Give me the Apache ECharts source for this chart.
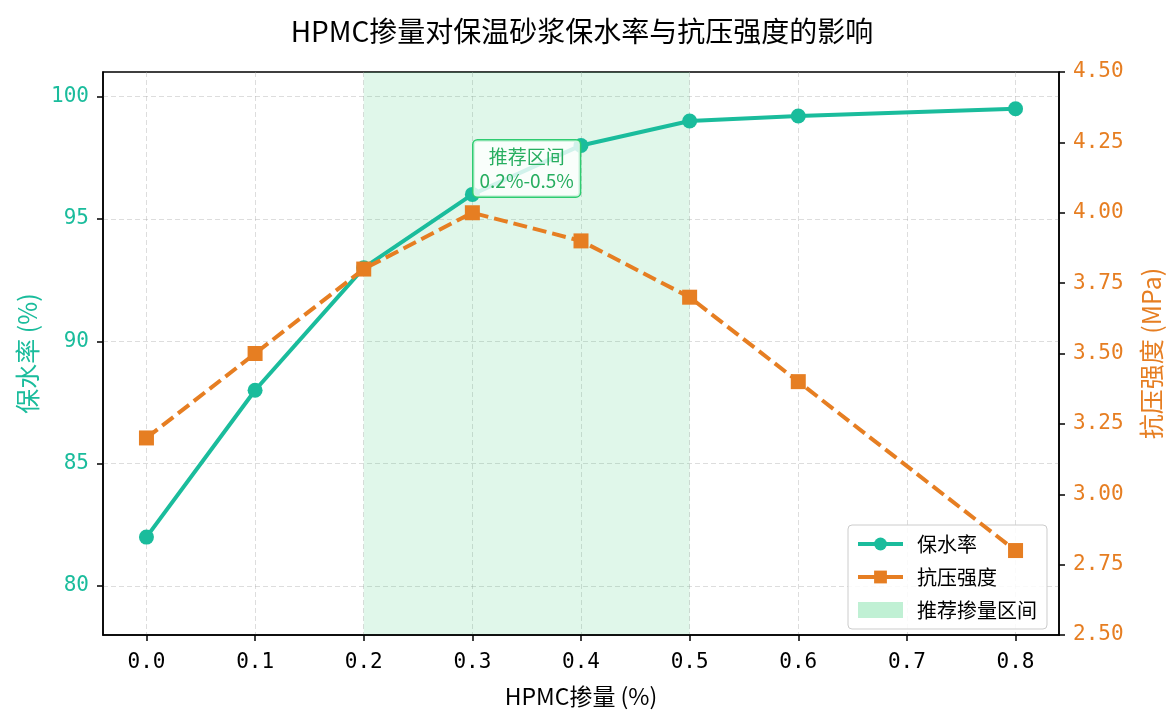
<!DOCTYPE html>
<html><head><meta charset="utf-8">
<script src="https://cdn.jsdelivr.net/npm/echarts@6/dist/echarts.min.js"></script>
<style>html,body{margin:0;padding:0;background:#fff}#c{width:1176px;height:726px}</style>
</head><body><div id="c"></div>
<script>
// ---- data ----
const dosage = [0.0, 0.1, 0.2, 0.3, 0.4, 0.5, 0.6, 0.8];
const waterRetention = [82, 88, 93, 96, 98, 99, 99.2, 99.5];
const strength = [3.2, 3.5, 3.8, 4.0, 3.9, 3.7, 3.4, 2.8];
const xTicks = [0, 0.1, 0.2, 0.3, 0.4, 0.5, 0.6, 0.7, 0.8];
const leftTicks = [80, 85, 90, 95, 100];
const recRange = [0.2, 0.5];
const noteCoord = [0.35, 97.06];
const noteText = ['推荐区间', '0.2%-0.5%'];

const TEAL = '#1abc9c', ORANGE = '#e67e22', GREEN = '#27ae60';
const CJK = "'Noto Sans CJK SC', sans-serif";
const MONO = "'DejaVu Sans Mono', 'Noto Sans CJK SC', monospace";

const chart = echarts.init(document.getElementById('c'), null, {renderer: 'canvas'});
const option = {
  backgroundColor: '#fff',
  animation: false,
  title: {
    text: 'HPMC掺量对保温砂浆保水率与抗压强度的影响',
    left: 577, top: 12, textAlign: 'center',
    textStyle: {fontFamily: CJK, fontSize: 28, fontWeight: 'normal', color: '#000'}
  },
  grid: {left: 103, right: 117, top: 72, bottom: 91, show: true, borderColor: '#000', borderWidth: 1.5, backgroundColor: 'transparent'},
  legend: {
    orient: 'vertical', left: 848, top: 525,
    padding: [9, 10, 9, 8],
    backgroundColor: 'rgba(255,255,255,0.85)', borderColor: '#ccc', borderWidth: 1, borderRadius: 4,
    itemWidth: 45, itemHeight: 16, itemGap: 13,
    textStyle: {fontFamily: CJK, fontSize: 20, color: '#000', padding: [0, 0, 0, 9]},
    data: [
      {name: '保水率', lineStyle: {width: 4}},
      {name: '抗压强度', lineStyle: {width: 4, type: 'solid'}},
      {name: '推荐掺量区间', icon: 'rect', itemStyle: {color: 'rgba(46,204,113,0.3)'}}
    ]
  },
  xAxis: {
    type: 'value', min: -0.04, max: 0.84,
    name: 'HPMC掺量 (%)', nameLocation: 'middle', nameGap: 50,
    nameTextStyle: {fontFamily: CJK, fontSize: 23, color: '#000'},
    axisLine: {onZero: false, lineStyle: {color: '#000', width: 1.5}},
    axisTick: {show: true, length: 6, lineStyle: {color: '#000', width: 1.5}, customValues: xTicks},
    axisLabel: {customValues: xTicks, formatter: v => v.toFixed(1), fontFamily: MONO, fontSize: 21, color: '#000', margin: 17},
    splitLine: {show: true, lineStyle: {color: 'rgba(170,170,170,0.4)', type: [5, 3], width: 1}},
    z: 1
  },
  yAxis: [
    {
      type: 'value', min: 78, max: 101, position: 'left',
      name: '保水率 (%)', nameLocation: 'middle', nameGap: 60, nameRotate: 90,
      nameTextStyle: {fontFamily: CJK, fontSize: 25, color: TEAL},
      axisLine: {show: true, onZero: false, lineStyle: {color: '#000', width: 1.5}},
      axisTick: {show: true, length: 6, lineStyle: {color: '#000', width: 1.5}, customValues: leftTicks},
      axisLabel: {customValues: leftTicks, fontFamily: MONO, fontSize: 21, color: TEAL, margin: 14},
      splitLine: {show: true, lineStyle: {color: 'rgba(170,170,170,0.4)', type: [5, 3], width: 1}},
      z: 1
    },
    {
      type: 'value', min: 2.5, max: 4.5, interval: 0.25, position: 'right',
      name: '抗压强度 (MPa)', nameLocation: 'middle', nameGap: 80, nameRotate: 90,
      nameTextStyle: {fontFamily: CJK, fontSize: 25, color: ORANGE},
      axisLine: {show: true, onZero: false, lineStyle: {color: '#000', width: 1.5}},
      axisTick: {show: true, length: 6, lineStyle: {color: '#000', width: 1.5}},
      axisLabel: {formatter: v => v.toFixed(2), fontFamily: MONO, fontSize: 21, color: ORANGE, margin: 14},
      splitLine: {show: false},
      z: 1
    }
  ],
  series: [
    {
      name: '推荐掺量区间', type: 'line', data: [], yAxisIndex: 0, z: 0,
      itemStyle: {color: 'rgba(46,204,113,0.3)'},
      markArea: {
        silent: true,
        itemStyle: {color: 'rgba(46,204,113,0.15)'},
        data: [[{xAxis: recRange[0]}, {xAxis: recRange[1]}]]
      }
    },
    {
      name: '保水率', type: 'line', yAxisIndex: 0, z: 3,
      data: dosage.map((x, i) => [x, waterRetention[i]]),
      symbol: 'circle', symbolSize: 15,
      lineStyle: {color: TEAL, width: 4},
      itemStyle: {color: TEAL},
      markPoint: {
        silent: true,
        symbol: 'rect', symbolSize: 1,
        itemStyle: {color: 'rgba(0,0,0,0)'},
        label: {
          show: true, position: 'inside',
          formatter: noteText.join('\n'),
          fontFamily: CJK, fontSize: 19, lineHeight: 24, color: GREEN,
          backgroundColor: 'rgba(255,255,255,0.8)', borderColor: '#2ecc71', borderWidth: 1.5, borderRadius: 4,
          padding: [4, 6, 4, 6], align: 'center'
        },
        data: [{coord: noteCoord}]
      }
    },
    {
      name: '抗压强度', type: 'line', yAxisIndex: 1, z: 4,
      data: dosage.map((x, i) => [x, strength[i]]),
      symbol: 'rect', symbolSize: 15,
      lineStyle: {color: ORANGE, width: 4, type: [14, 6]},
      itemStyle: {color: ORANGE}
    }
  ]
};
chart.setOption(option);
</script>
</body></html>
